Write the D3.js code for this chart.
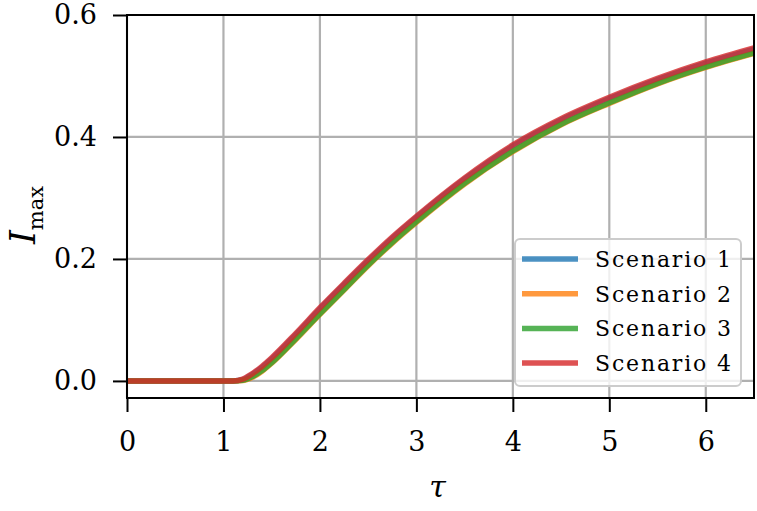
<!DOCTYPE html>
<html><head><meta charset="utf-8">
<script src="https://cdn.jsdelivr.net/npm/d3@7"></script>
<style>body{margin:0;background:#fff}svg{display:block}
.t{font-family:"DejaVu Serif",serif}</style>
</head><body>
<script>
const tau = [0, 0.5, 1.0, 1.1, 1.2, 1.3, 1.4, 1.5, 1.75, 2, 2.25, 2.5, 2.75, 3, 3.5, 4, 4.5, 5, 5.5, 6, 6.5];
const scenario1 = [0,0,0,0,0.002,0.011,0.022,0.036,0.076,0.118,0.158,0.197,0.234,0.268,0.331,0.385,0.428,0.463,0.494,0.521,0.544];
const scenario2 = [0,0,0,0,0.0005,0.006,0.016,0.029,0.068,0.109,0.149,0.189,0.226,0.260,0.323,0.376,0.420,0.455,0.487,0.514,0.537];
const scenario3 = [0,0,0,0,0.001,0.007,0.017,0.030,0.069,0.110,0.150,0.190,0.227,0.261,0.324,0.377,0.421,0.456,0.488,0.515,0.538];
const scenario4 = [0,0,0,0,0.003,0.012,0.024,0.038,0.078,0.120,0.160,0.199,0.236,0.270,0.333,0.387,0.430,0.465,0.496,0.523,0.546];
const seriesNames = ["Scenario 1","Scenario 2","Scenario 3","Scenario 4"];
const seriesColors = ["#1f77b4","#ff7f0e","#2ca02c","#d62728"];
const xTicks = [0,1,2,3,4,5,6];
const yTicks = [0.0,0.2,0.4,0.6];

const W = 757, H = 511;
const m = {left:127, right:3, top:15, bottom:113};
const iw = W - m.left - m.right, ih = H - m.top - m.bottom;

const svg = d3.select("body").append("svg").attr("width",W).attr("height",H);
const g = svg.append("g").attr("transform",`translate(${m.left},${m.top})`);
const x = d3.scaleLinear().domain([0,6.5]).range([0,iw]);
const y = d3.scaleLinear().domain([-0.028,0.6]).range([ih,0]);

g.append("g").selectAll("line").data(xTicks).join("line")
  .attr("x1",d=>x(d)).attr("x2",d=>x(d)).attr("y1",0).attr("y2",ih)
  .attr("stroke","#b0b0b0").attr("stroke-width",2.2);
g.append("g").selectAll("line").data(yTicks).join("line")
  .attr("y1",d=>y(d)).attr("y2",d=>y(d)).attr("x1",0).attr("x2",iw)
  .attr("stroke","#b0b0b0").attr("stroke-width",2.2);

svg.append("defs").append("clipPath").attr("id","clip").append("rect")
  .attr("x",0).attr("y",0).attr("width",iw).attr("height",ih);

const series = [scenario1,scenario2,scenario3,scenario4];
const line = d3.line().x(d=>x(d[0])).y(d=>y(d[1])).curve(d3.curveMonotoneX);
const lg = g.append("g").attr("clip-path","url(#clip)");
series.forEach((s,i)=>{
  lg.append("path").datum(tau.map((t,j)=>[t,s[j]]))
    .attr("d",line).attr("fill","none").attr("stroke",seriesColors[i])
    .attr("stroke-opacity",0.8).attr("stroke-width",5.5);
});

const xa = g.append("g").attr("transform",`translate(0,${ih})`)
  .call(d3.axisBottom(x).tickValues(xTicks).tickFormat(d3.format("d")).tickSize(14).tickPadding(20));
const ya = g.append("g")
  .call(d3.axisLeft(y).tickValues(yTicks).tickFormat(d3.format(".1f")).tickSize(14).tickPadding(16));
[xa,ya].forEach(a=>{
  a.attr("font-family",null).attr("font-size",null);
  a.select(".domain").remove();
  a.selectAll("line").attr("stroke","#000").attr("stroke-width",2);
  a.selectAll("text").attr("class","t").style("font-size","27px").attr("fill","#000");
});
g.append("rect").attr("x",0).attr("y",0).attr("width",iw).attr("height",ih)
  .attr("fill","none").attr("stroke","#000").attr("stroke-width",2);

const leg = svg.append("g").attr("transform","translate(515,239)");
leg.append("rect").attr("width",226).attr("height",147).attr("rx",5)
  .attr("fill","#fff").attr("fill-opacity",0.8).attr("stroke","#cccccc").attr("stroke-width",2);
seriesNames.forEach((n,i)=>{
  const yy = 20 + i*34.7;
  leg.append("line").attr("x1",7).attr("x2",63).attr("y1",yy).attr("y2",yy)
    .attr("stroke",seriesColors[i]).attr("stroke-opacity",0.8).attr("stroke-width",5.5);
  leg.append("text").attr("class","t").attr("x",80).attr("y",yy).attr("dy","0.36em")
    .style("font-size","22px").attr("textLength",136).attr("lengthAdjust","spacing").text(n);
});

svg.append("text").attr("class","t").attr("x",m.left+x(3.25)-3).attr("y",497)
  .style("font-size","30px").style("font-style","italic").attr("text-anchor","middle").text("τ");
const yl = svg.append("text").attr("class","t").attr("transform",`translate(35,215)rotate(-90)`)
  .attr("text-anchor","middle");
yl.append("tspan").style("font-size","35px").style("font-style","italic").text("I");
yl.append("tspan").style("font-size","21px").attr("dy",8).text("max");
</script>
</body></html>
